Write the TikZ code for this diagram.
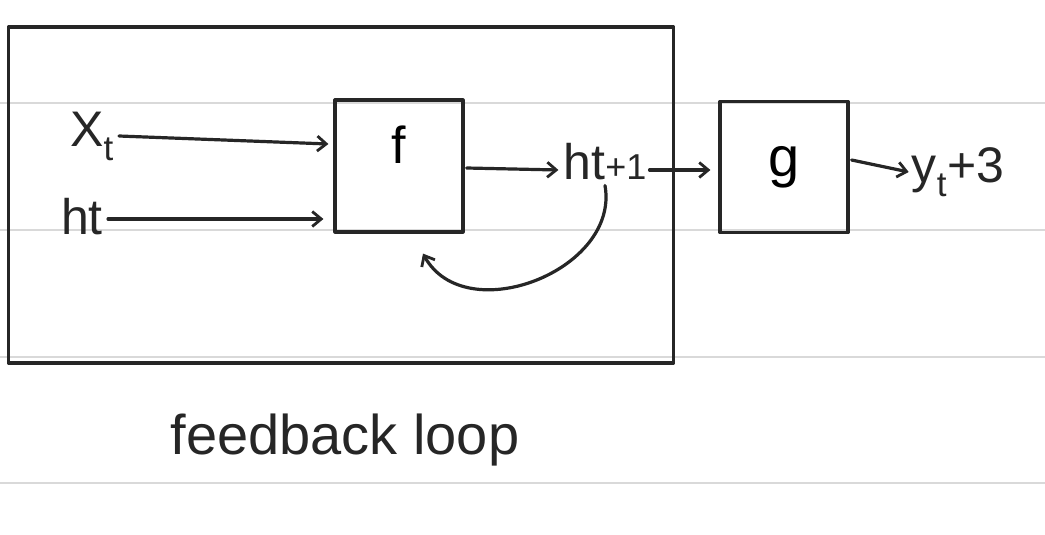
\documentclass[tikz,border=0pt]{standalone}
\usepackage{fontspec}
\setmainfont{Liberation Sans}
\usetikzlibrary{arrows.meta,calc}
\begin{document}
\begin{tikzpicture}[x=1pt,y=-1pt,
  ink/.style={line width=3.2pt,draw=black!85,line cap=round,line join=round},
  arr/.style={ink,-{Straight Barb[length=9pt,width=15pt,line width=2.8pt]}},
  boxnode/.style={ink,rectangle,inner sep=0pt},
  lbl/.style={inner sep=1pt,font=\fontsize{50}{60}\selectfont,text=black!85},
  rule/.style={line width=1.6pt,draw=black!15}]
\useasboundingbox (0,0) rectangle (1045,535);
\fill[white] (0,0) rectangle (1045,535);
% ruled paper lines
\foreach \yy in {103,230,357,483} \draw[rule] (0,\yy) -- (1045,\yy);
% boxes
\node[boxnode,minimum width=665pt,minimum height=336pt] (outer) at (341,195) {};
\node[boxnode,minimum width=128pt,minimum height=132pt,font=\fontsize{52}{60}\selectfont,text depth=42pt] (f) at (399,166) {f};
\node[boxnode,minimum width=128pt,minimum height=131pt,font=\fontsize{56}{60}\selectfont] (g) at (784,167) {g};
% labels
\node[lbl] (xt) at (92,136) {X\textsubscript{t}};
\node[lbl] (ht) at (82,217) {ht};
\node[lbl] (ht1) at (605,162) {ht{\fontsize{36}{40}\selectfont +1}};
\node[lbl] (yt3) at (958,172) {y\textsubscript{t}+3};
\node[lbl,font=\fontsize{56}{66}\selectfont] (cap) at (345,440) {feedback loop};
\coordinate (fb) at ($(f.south)+(24,20)$);
% connectors
\draw[arr] (xt.east) ++(4,0) -- ($(f.west |- xt.east)+(-5,8)$);
\draw[arr] ($(ht.east)+(4,2)$) -- ($(f.west |- ht.east)+(-10,2)$);
\draw[arr] ($(f.east)+(2,2)$) -- ($(ht1.west)+(-4,8)$);
\draw[arr] ($(ht1.east)+(2,8)$) -- ($(g.west)+(-8,3)$);
\draw[arr] ($(g.east)+(2,-7)$) -- ($(yt3.west)+(-2,0)$);
\draw[arr] ($(ht1.south)+(0,4)$) .. controls +(15,85) and (465,330) .. (fb);
\end{tikzpicture}
\end{document}
